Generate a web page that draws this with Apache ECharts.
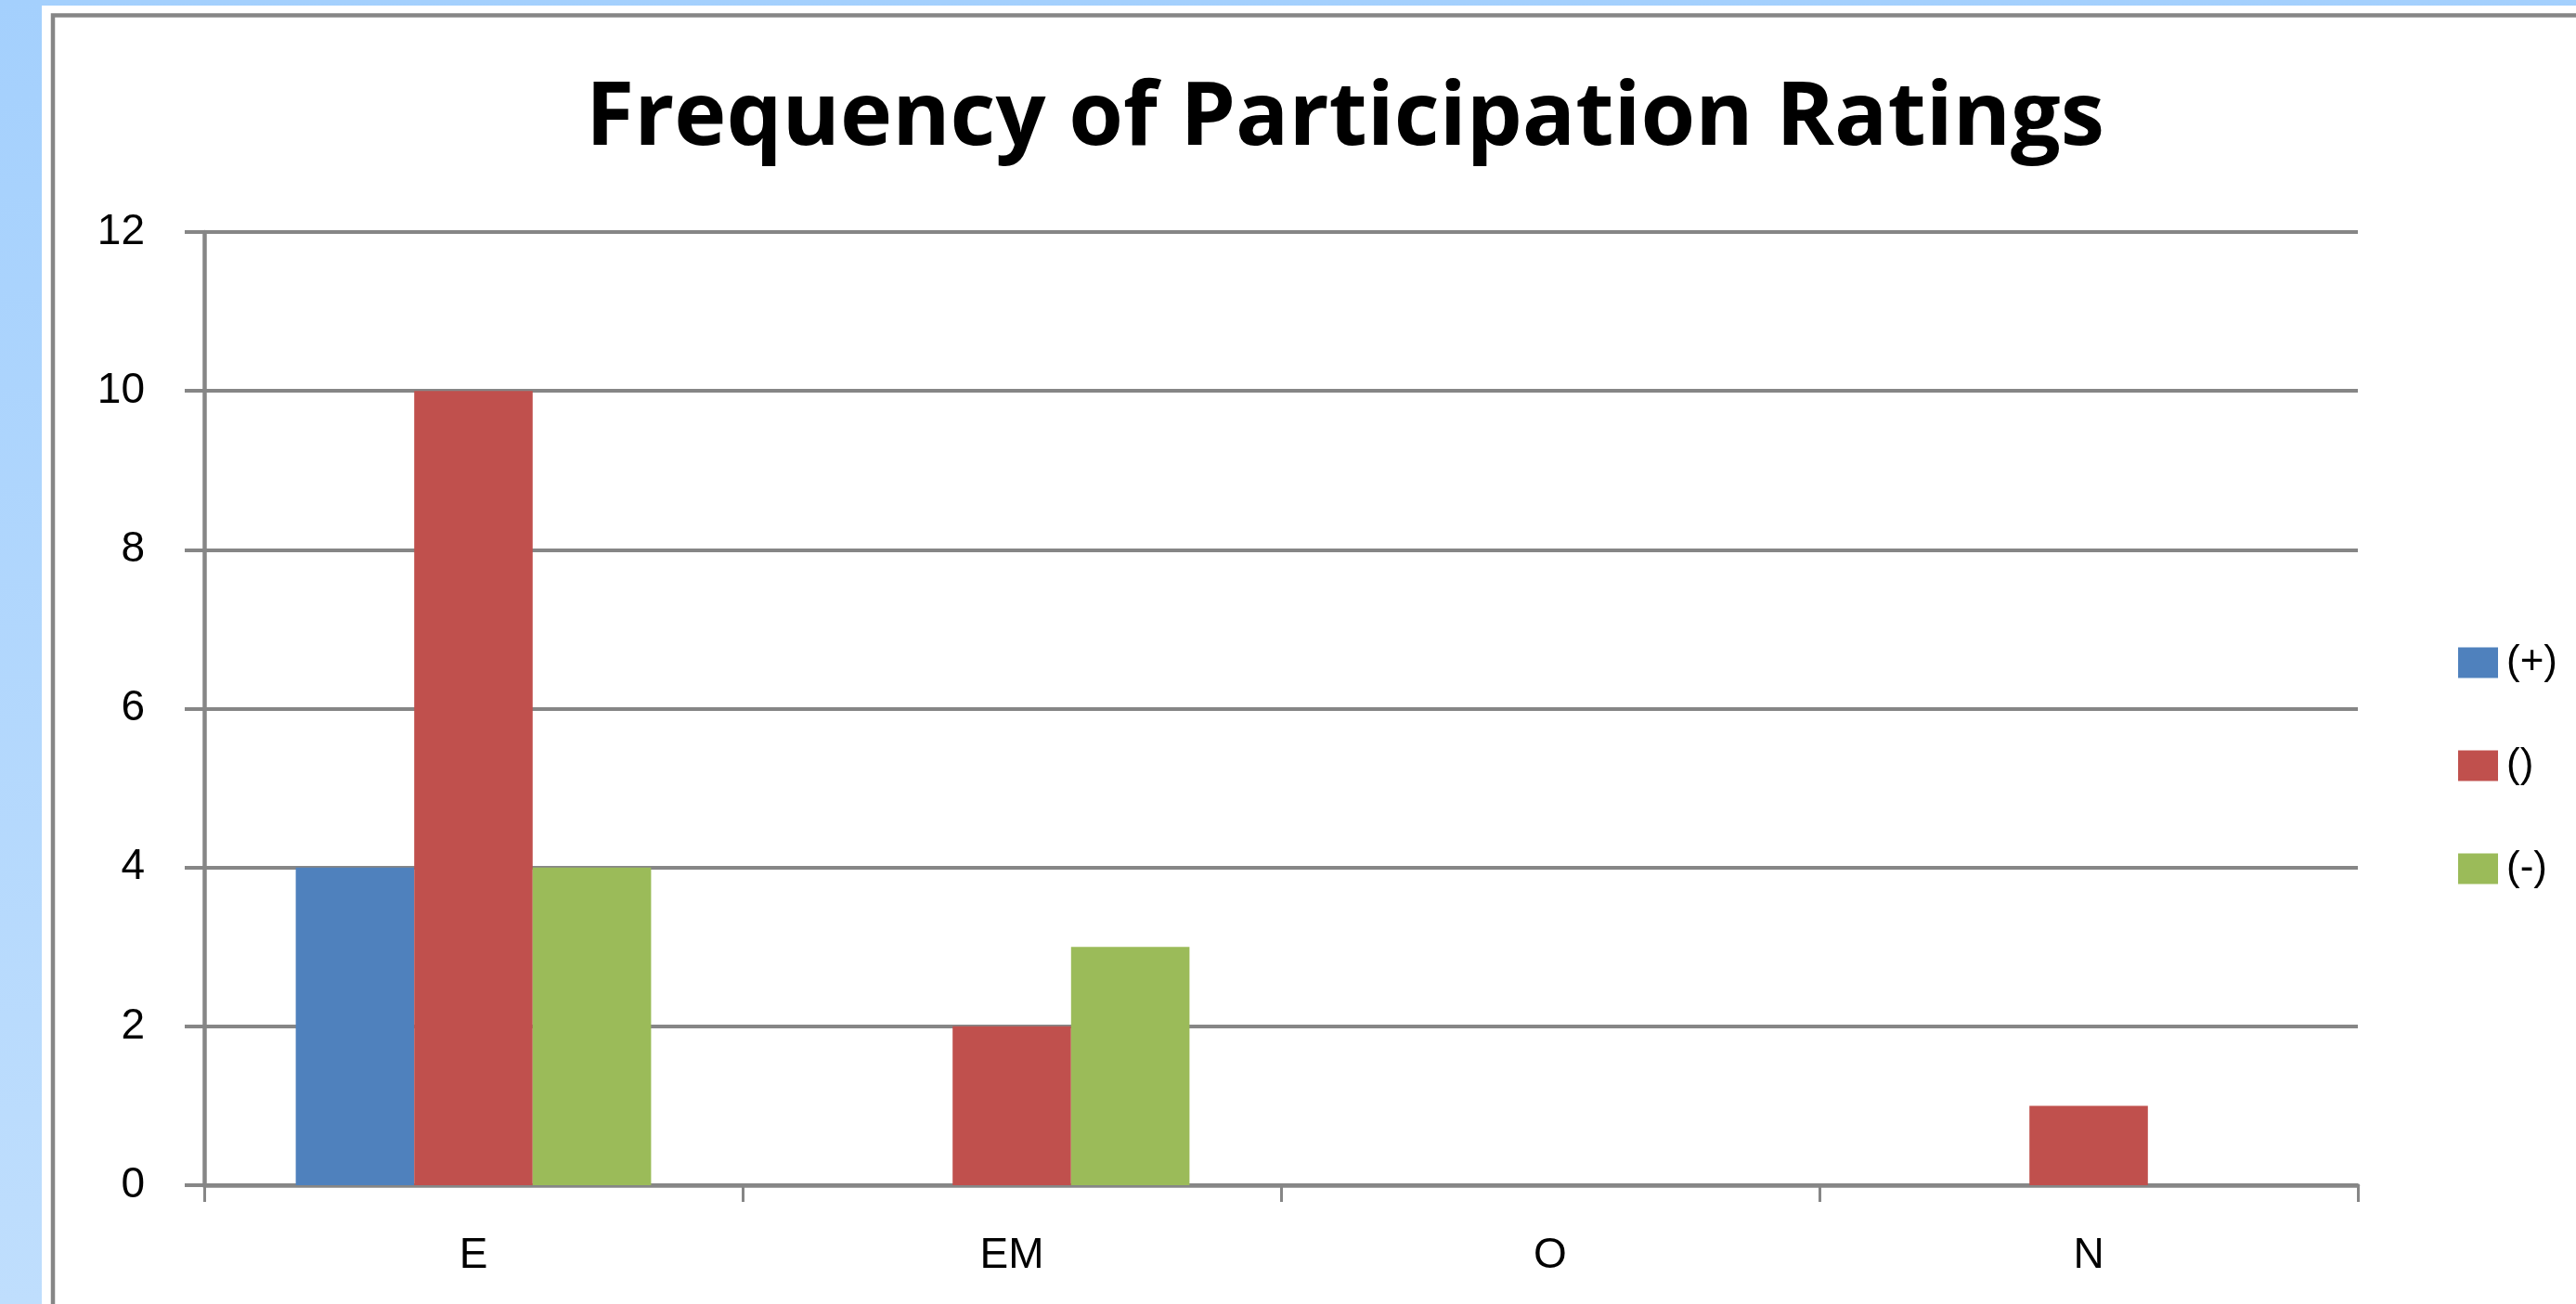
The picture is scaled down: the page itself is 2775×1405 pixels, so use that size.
<!DOCTYPE html>
<html>
<head>
<meta charset="utf-8">
<title>Frequency of Participation Ratings</title>
<script src="https://cdn.jsdelivr.net/npm/echarts@6/dist/echarts.min.js"></script>
<style>
  html, body { margin: 0; padding: 0; width: 2775px; height: 1405px; overflow: hidden;
    background: linear-gradient(to bottom, #a4d0fd 0%, #bfdefd 100%); }
  #chart { position: absolute; left: 0; top: 0; width: 2775px; height: 1405px; }
</style>
</head>
<body>
<div id="chart"></div>
<script>
// Rating categories along the x axis
const categories = ['E', 'EM', 'O', 'N'];
// Frequency counts per rating sign
const plusValues = [4, 0, 0, 0];
const neutralValues = [10, 2, 0, 1];
const minusValues = [4, 3, 0, 0];
const seriesNames = ['(+)', '()', '(-)'];
const seriesColors = ['#4f81bd', '#c0504d', '#9bbb59'];
// Value axis range
const yMin = 0, yMax = 12, yStep = 2;

const gridColor = '#868686';
const labelFont = 'Liberation Sans';

const chart = echarts.init(document.getElementById('chart'), null, { renderer: 'canvas' });

const seriesValues = [plusValues, neutralValues, minusValues];
const series = seriesNames.map((name, i) => ({
  name: name,
  type: 'bar',
  data: seriesValues[i],
  itemStyle: { color: seriesColors[i] },
  barGap: '0%',
  barCategoryGap: '34%'
}));

chart.setOption({
  backgroundColor: 'transparent',
  animation: false,
  graphic: [
    { type: 'rect', z: -10, silent: true,
      shape: { x: 45, y: 6, width: 2800, height: 1500 },
      style: { fill: '#ffffff' } },
    { type: 'rect', z: -9, silent: true,
      shape: { x: 57, y: 16.5, width: 2800, height: 1500 },
      style: { fill: 'none', stroke: gridColor, lineWidth: 4.5 } }
  ],
  title: {
    text: 'Frequency of Participation Ratings',
    left: 1444,
    top: 76,
    textAlign: 'center',
    textStyle: { fontFamily: 'Open Sans', fontWeight: 'bold', fontSize: 95, color: '#000' }
  },
  legend: {
    orient: 'vertical',
    left: 2643,
    top: 687,
    itemWidth: 43,
    itemHeight: 33,
    itemGap: 67,
    icon: 'rect',
    textStyle: { fontFamily: labelFont, fontSize: 44, color: '#000', padding: [0, 0, 0, 4] },
    data: seriesNames
  },
  grid: { left: 220, top: 250, right: 235, bottom: 128, containLabel: false },
  xAxis: {
    type: 'category',
    data: categories,
    axisLine: { show: true, lineStyle: { color: gridColor, width: 4.5 } },
    axisTick: { show: true, length: 18, lineStyle: { color: gridColor, width: 3 } },
    axisLabel: { margin: 53, fontFamily: labelFont, fontSize: 46, color: '#000' },
    splitLine: { show: false }
  },
  yAxis: {
    type: 'value',
    min: yMin,
    max: yMax,
    interval: yStep,
    axisLine: { show: true, lineStyle: { color: gridColor, width: 4.5 } },
    axisTick: { show: true, length: 21, lineStyle: { color: gridColor, width: 4 } },
    axisLabel: { margin: 64, fontFamily: labelFont, fontSize: 46, color: '#000' },
    splitLine: { show: true, lineStyle: { color: gridColor, width: 4 } }
  },
  series: series
});
</script>
</body>
</html>
